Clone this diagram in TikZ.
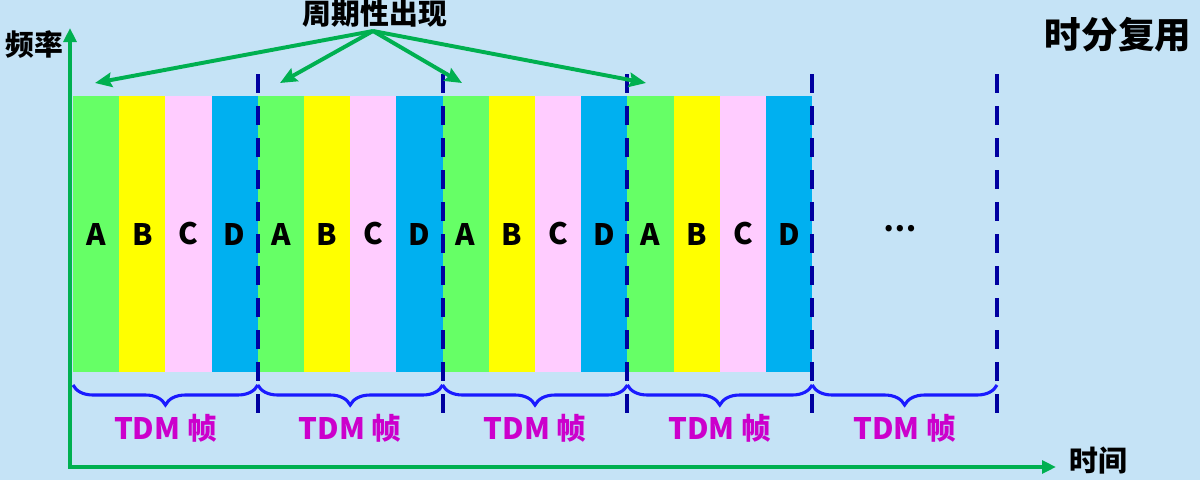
\documentclass[tikz,border=0pt]{standalone}
\usepackage{fontspec}
\setmainfont{Noto Sans CJK SC}
\usetikzlibrary{calc, positioning, arrows.meta, decorations.pathreplacing}
\definecolor{bgblue}{HTML}{C5E3F6}
\definecolor{slotA}{HTML}{66FF66}
\definecolor{slotB}{HTML}{FFFF00}
\definecolor{slotC}{HTML}{FFCCFF}
\definecolor{slotD}{HTML}{00B0F0}
\definecolor{axisgreen}{HTML}{00B050}
\definecolor{sepnavy}{HTML}{0000A0}
\definecolor{braceblue}{HTML}{1A1AFF}
\definecolor{framemagenta}{HTML}{CC00CC}
\tikzset{
    slot/.style={draw=none, inner sep=0pt, minimum width=1.155cm, minimum height=6.9cm,
        font=\bfseries\fontsize{21}{24}\selectfont},
    framesep/.style={sepnavy, line width=2.8pt, dash pattern=on 0.47cm off 0.33cm},
    framebrace/.style={bracebrush, decorate, decoration={brace, mirror, amplitude=0.5cm}},
    bracebrush/.style={braceblue, line width=2.2pt},
    framelabel/.style={framemagenta, font=\bfseries\fontsize{21}{24}\selectfont},
    caption/.style={font=\bfseries\fontsize{20.5}{24}\selectfont},
    axis/.style={axisgreen, line width=2.8pt, -{Triangle[length=0.35cm, width=0.32cm]}},
    pointer/.style={axisgreen, line width=2.8pt, -{Stealth[length=0.42cm, width=0.36cm, inset=0.06cm]}},
}

\begin{document}
\begin{tikzpicture}[x=0.025cm, y=-0.025cm]

\fill[bgblue] (0,0) rectangle (1200,480);
\useasboundingbox (0,0) rectangle (1200,480);

% time slots of the four frames
\foreach \f in {0,...,3}{
    \foreach \name [count=\i] in {A,B,C,D}{
        \node[slot, fill=slot\name] (s\f\name) at ({73+184.8*\f+46.2*(\i-0.5)}, 234) {\name};
    }
}
\node[font=\bfseries\fontsize{21}{24}\selectfont] (more) at (900,229) {…};

% frame borders, braces and labels
\foreach \k in {1,...,5}{
    \draw[framesep] ({73+184.8*\k}, 74) -- ++(0, 343);
}
\foreach \f in {0,...,4}{
    \draw[framebrace] ({73+184.8*\f}, 385) -- ({73+184.8*(\f+1)}, 385);
    \node[framelabel] (tdm\f) at ({73+184.8*(\f+0.5)}, 428) {TDM 帧};
}

% axes
\coordinate (origin) at (70,467);
\coordinate (ytop) at (70,28);
\coordinate (xend) at (1056,467);
\draw[axis] (origin) -- (ytop);
\draw[axis] ($(origin)+(-2,0)$) -- (xend);
\node[caption] (freq) at (34,45) {频率};
\node[caption] (time) at (1098,461) {时间};
\node[font=\bfseries\fontsize{26}{30}\selectfont] (tdmtitle) at (1118,35) {时分复用};

% periodic arrows
\node[caption] (periodic) at (375,14) {周期性出现};
\coordinate (hub) at (373,31);
\foreach \x [count=\n] in {95,280,462,646}{
    \coordinate (tip\n) at (\x,83);
    \draw[pointer] (hub) -- (tip\n);
}

\end{tikzpicture}
\end{document}
